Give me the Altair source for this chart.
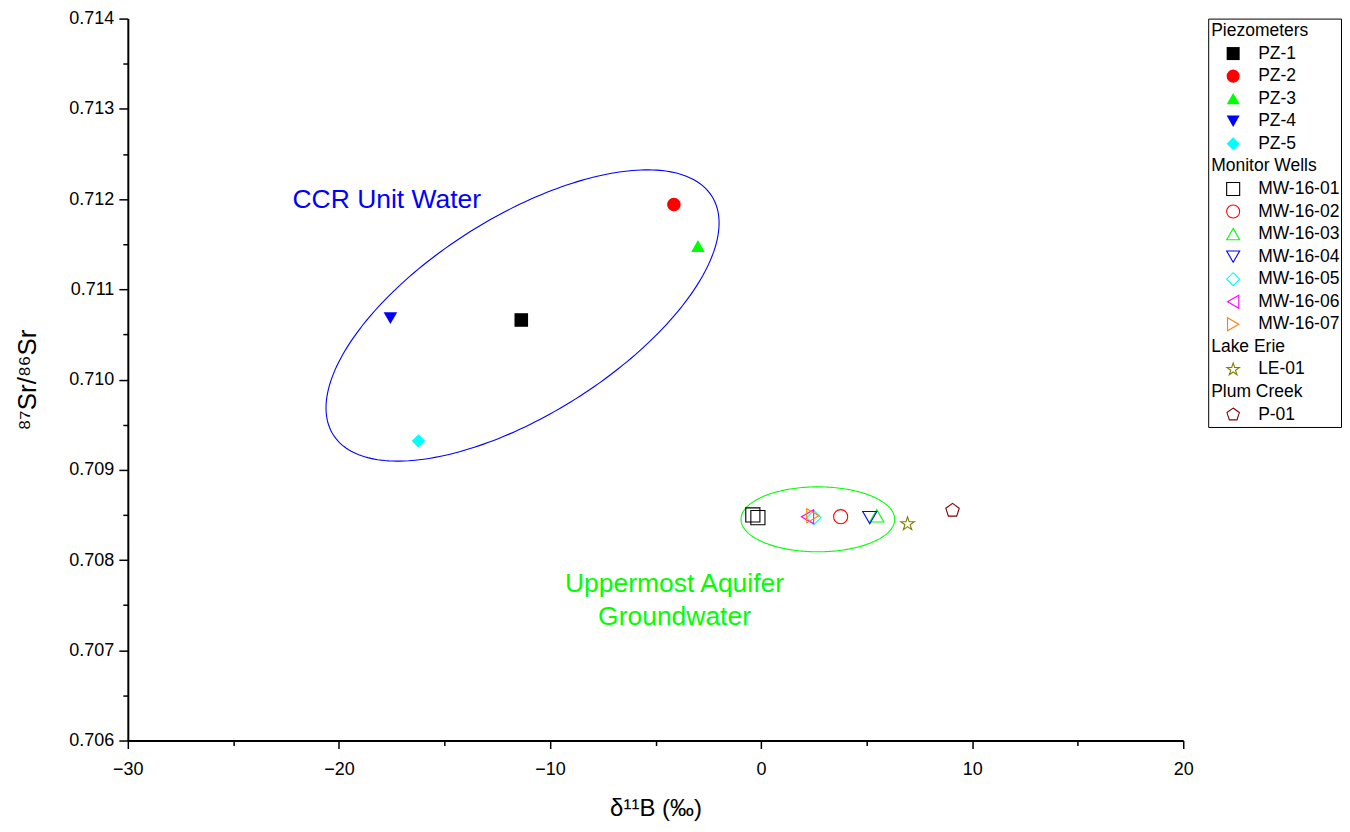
import altair as alt
import numpy as np
import pandas as pd

FONT = "Liberation Sans"

# ---------------- data ----------------
series_names = ["PZ-1", "PZ-2", "PZ-3", "PZ-4", "PZ-5",
                "MW-16-01", "MW-16-02", "MW-16-03", "MW-16-04", "MW-16-05", "MW-16-06", "MW-16-07",
                "LE-01", "P-01"]
series_filled = [True, True, True, True, True,
                 False, False, False, False, False, False, False, False, False]

STAR = "M0,-1L0.2245,-0.309L0.951,-0.309L0.363,0.118L0.588,0.809L0,0.382L-0.588,0.809L-0.363,0.118L-0.951,-0.309L-0.2245,-0.309Z"
PENTAGON = "M0,-1L0.951,-0.309L0.588,0.809L-0.588,0.809L-0.951,-0.309Z"
series_shapes = ["square", "circle", "triangle-up", "triangle-down", "diamond",
                 "square", "circle", "triangle-up", "triangle-down", "diamond", "triangle-left", "triangle-right",
                 STAR, PENTAGON]
series_colors = ["#000000", "#FF0000", "#00FF00", "#0000FF", "#00FFFF",
                 "#000000", "#FF0000", "#00FF00", "#0000FF", "#00FFFF", "#FF00FF", "#FF8000",
                 "#808000", "#800000"]

# samples (drawing order)
sample_series = ["PZ-1", "PZ-2", "PZ-3", "PZ-4", "PZ-5",
                 "MW-16-01", "MW-16-01", "MW-16-02", "MW-16-03", "MW-16-04",
                 "MW-16-05", "MW-16-06", "MW-16-07", "LE-01", "P-01"]
d11B = [-11.36, -4.13, -2.99, -17.56, -16.23,
        -0.39, -0.15, 3.77, 5.48, 5.15,
        2.50, 2.20, 2.45, 6.94, 9.07]
sr_ratio = [0.71066, 0.71194, 0.71148, 0.71068, 0.70932,
            0.70850, 0.70847, 0.70848, 0.70849, 0.70847,
            0.70847, 0.70848, 0.70849, 0.70840, 0.70855]

# grouping ellipses: centre and two semi-axis vectors (data units)
ell_names = ["CCR", "UA"]
ell_cx = [-11.3, 2.69]
ell_cy = [0.71071, 0.708451]
ell_ux = [8.97, 3.64]
ell_uy = [0.001321, 0.0]
ell_vx = [-2.495, 0.0]
ell_vy = [0.000927, 0.00036]
ell_colors = ["#0000FF", "#00FF00"]

# annotations
ann_text = ["CCR Unit Water", "Uppermost Aquifer", "Groundwater"]
ann_x = [-22.2, -4.1, -4.1]
ann_y = [0.71199, 0.707737, 0.707372]

# legend rows
leg_labels = ["Piezometers", "PZ-1", "PZ-2", "PZ-3", "PZ-4", "PZ-5",
              "Monitor Wells", "MW-16-01", "MW-16-02", "MW-16-03", "MW-16-04", "MW-16-05", "MW-16-06", "MW-16-07",
              "Lake Erie", "LE-01", "Plum Creek", "P-01"]
leg_header = ["Piezometers", "Monitor Wells", "Lake Erie", "Plum Creek"]

# ---------------- tables ----------------
filled_map = dict(zip(series_names, series_filled))
pts = pd.DataFrame({"series": sample_series, "d11B": d11B, "sr": sr_ratio})
pts["filled"] = pts["series"].map(filled_map)
pts["i"] = range(len(pts))

t = np.linspace(0, 2 * np.pi, 241)
rows = []
for k, nm in enumerate(ell_names):
    for j, tt in enumerate(t):
        rows.append({"ell": nm, "o": j,
                     "x": ell_cx[k] + ell_ux[k] * np.cos(tt) + ell_vx[k] * np.sin(tt),
                     "y": ell_cy[k] + ell_uy[k] * np.cos(tt) + ell_vy[k] * np.sin(tt)})
ell_df = pd.DataFrame(rows)

ann_df = pd.DataFrame({"text": ann_text, "x": ann_x, "y": ann_y,
                       "kind": ["ccr", "ua", "ua"]})

leg_df = pd.DataFrame({"label": leg_labels, "row": range(len(leg_labels))})
leg_df["header"] = leg_df["label"].isin(leg_header)
leg_df["filled"] = leg_df["label"].map(filled_map).fillna(False).astype(bool)

# ---------------- scales ----------------
shape_scale = alt.Scale(domain=series_names, range=series_shapes)
color_scale = alt.Scale(domain=series_names, range=series_colors)
xs = alt.Scale(domain=[-30, 20], nice=False, zero=False)
ys = alt.Scale(domain=[0.706, 0.714], nice=False, zero=False)

x_axis = alt.Axis(
    title="δ¹¹B (‰)", values=list(range(-30, 21, 5)),
    labelExpr="datum.value % 10 === 0 ? format(datum.value, 'd') : ''",
    tickSize={"condition": {"test": "datum.value % 10 === 0", "value": 8}, "value": 5},
    grid=False, domainColor="black", domainWidth=2, tickColor="black", tickWidth=1.5,
    labelFont=FONT, labelFontSize=18, labelColor="black", labelPadding=12,
    titleFont=FONT, titleFontSize=24, titleFontWeight="normal", titleColor="black", titlePadding=18,
    labelOverlap=False, labelFlush=False,
)
y_axis = alt.Axis(
    title="⁸⁷Sr/⁸⁶Sr", values=[round(0.706 + 0.0005 * k, 4) for k in range(17)],
    labelExpr="round(datum.value * 2000) % 2 === 0 ? format(datum.value, '.3f') : ''",
    tickSize={"condition": {"test": "round(datum.value * 2000) % 2 === 0", "value": 9}, "value": 5},
    grid=False, domainColor="black", domainWidth=2, tickColor="black", tickWidth=1.5,
    labelFont=FONT, labelFontSize=18, labelColor="black", labelPadding=5,
    titleFont=FONT, titleFontSize=26, titleFontWeight="normal", titleColor="black", titlePadding=28,
    labelOverlap=False, labelFlush=False,
)

base_pts = alt.Chart(pts)
enc = dict(
    x=alt.X("d11B:Q", scale=xs, axis=x_axis),
    y=alt.Y("sr:Q", scale=ys, axis=y_axis),
    shape=alt.Shape("series:N", scale=shape_scale, legend=None),
    color=alt.Color("series:N", scale=color_scale, legend=None),
    order=alt.Order("i:Q"),
)
filled_layer = base_pts.transform_filter("datum.filled").mark_point(
    filled=True, size=185, opacity=1).encode(**enc)
open_layer = base_pts.transform_filter("!datum.filled").mark_point(
    filled=False, size=200, strokeWidth=1.1, opacity=1).encode(**enc)

ell_layers = []
for nm, col in zip(ell_names, ell_colors):
    ell_layers.append(
        alt.Chart(ell_df).transform_filter(alt.datum.ell == nm).mark_line(
            strokeWidth=1.1, color=col).encode(
            x=alt.X("x:Q", scale=xs, axis=x_axis),
            y=alt.Y("y:Q", scale=ys, axis=y_axis),
            order="o:Q",
        )
    )

txt_ccr = alt.Chart(ann_df).transform_filter("datum.kind === 'ccr'").mark_text(
    align="left", baseline="middle", font=FONT, fontSize=26.5, color="#0000FF").encode(
    x=alt.X("x:Q", scale=xs, axis=x_axis), y=alt.Y("y:Q", scale=ys, axis=y_axis), text="text:N")
txt_ua = alt.Chart(ann_df).transform_filter("datum.kind === 'ua'").mark_text(
    align="center", baseline="middle", font=FONT, fontSize=26.5, color="#00FF00").encode(
    x=alt.X("x:Q", scale=xs, axis=x_axis), y=alt.Y("y:Q", scale=ys, axis=y_axis), text="text:N")

main = alt.layer(*ell_layers, txt_ccr, txt_ua, filled_layer, open_layer).properties(
    width=1057, height=723,
    view=alt.ViewBackground(stroke="transparent", strokeWidth=0),
)

# ---------------- legend panel ----------------
ly = alt.Y("row:Q", scale=alt.Scale(domain=[-0.55, 17.55], reverse=True, nice=False, zero=False), axis=None)
lbase = alt.Chart(leg_df)
leg_enc = dict(
    x=alt.value(25), y=ly,
    shape=alt.Shape("label:N", scale=shape_scale, legend=None),
    color=alt.Color("label:N", scale=color_scale, legend=None),
)
leg_filled = lbase.transform_filter("!datum.header && datum.filled").mark_point(
    filled=True, size=170, opacity=1).encode(**leg_enc)
leg_open = lbase.transform_filter("!datum.header && !datum.filled").mark_point(
    filled=False, size=170, strokeWidth=1.1, opacity=1).encode(**leg_enc)
leg_head = lbase.transform_filter("datum.header").mark_text(
    align="left", baseline="middle", font=FONT, fontSize=17.5, color="black").encode(
    x=alt.value(3), y=ly, text="label:N")
leg_lab = lbase.transform_filter("!datum.header").mark_text(
    align="left", baseline="middle", font=FONT, fontSize=17.5, color="black").encode(
    x=alt.value(50), y=ly, text="label:N")

legend = alt.layer(leg_filled, leg_open, leg_head, leg_lab).properties(
    width=133, height=409,
    view=alt.ViewBackground(stroke="black", strokeWidth=1),
)

chart = alt.hconcat(main, legend, spacing=13).resolve_scale(
    color="independent", shape="independent"
).properties(
    padding={"top": 1, "left": 6, "right": 0, "bottom": 2}
).configure_view(stroke=None).configure(background="white")

chart.save("out.html", embed_options={"renderer": "svg", "actions": False})
